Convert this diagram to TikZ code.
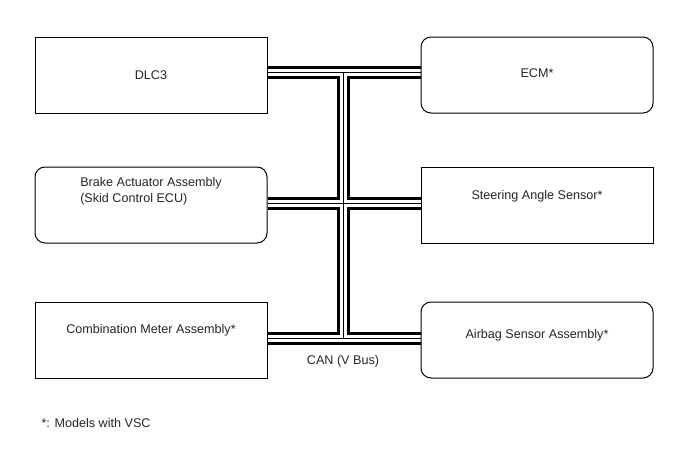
\documentclass[tikz,border=0pt]{standalone}
\usepackage{fontspec}
\setmainfont{Liberation Sans}
\usetikzlibrary{positioning}
\usetikzlibrary{backgrounds}

\tikzset{
  ecu/.style={draw, line width=1pt, fill=white, minimum width=232pt, minimum height=76pt, inner sep=0pt},
  recu/.style={ecu, rounded corners=10pt},
  lbl/.style={font=\fontsize{12.6}{15.5}\selectfont, text=black!85, align=left},
  busout/.style={line width=13pt, black},
  busin/.style={line width=7pt, white},
  buscore/.style={line width=1pt, black}
}

\begin{document}
\begin{tikzpicture}[x=1pt, y=-1pt]
\useasboundingbox (0,0) rectangle (688,463);

% ECUs
\node[ecu] (dlc) at (151,75) {};
\node[recu, right=153pt of dlc] (ecm) {};
\node[recu, below=53pt of dlc] (brake) {};
\node[ecu, below=53pt of ecm] (steer) {};
\node[ecu, below=58pt of brake] (combi) {};
\node[recu, below=58pt of steer] (airbag) {};

% labels
\node[lbl] (dlc-t) at (dlc) {DLC3};
\node[lbl] (ecm-t) at ([yshift=2pt]ecm.center) {ECM*};
\node[lbl] (brake-t) at ([yshift=14pt]brake.center) {Brake Actuator Assembly\\(Skid Control ECU)};
\node[lbl] (steer-t) at ([yshift=9pt]steer.center) {Steering Angle Sensor*};
\node[lbl] (combi-t) at ([yshift=10pt]combi.center) {Combination Meter Assembly*};
\node[lbl] (airbag-t) at ([yshift=5pt]airbag.center) {Airbag Sensor Assembly*};

% CAN bus
\coordinate (jt) at (343,72);
\coordinate (jm) at (343,203);
\coordinate (jb) at (343,338);
\begin{scope}[on background layer]
\foreach \s in {busout,busin,buscore} {
  \draw[\s] (dlc.east |- jt) -- (ecm.west |- jt);
  \draw[\s] (brake.east |- jm) -- (steer.west |- jm);
  \draw[\s] (combi.east |- jb) -- (airbag.west |- jb);
  \draw[\s] (jt) -- (jb);
}
\end{scope}
\node[lbl] (can) at ([yshift=-23pt]jb) {CAN (V Bus)};

% note
\node[lbl, anchor=west] (note) at (38,423) {*: Models with VSC};
\end{tikzpicture}
\end{document}
